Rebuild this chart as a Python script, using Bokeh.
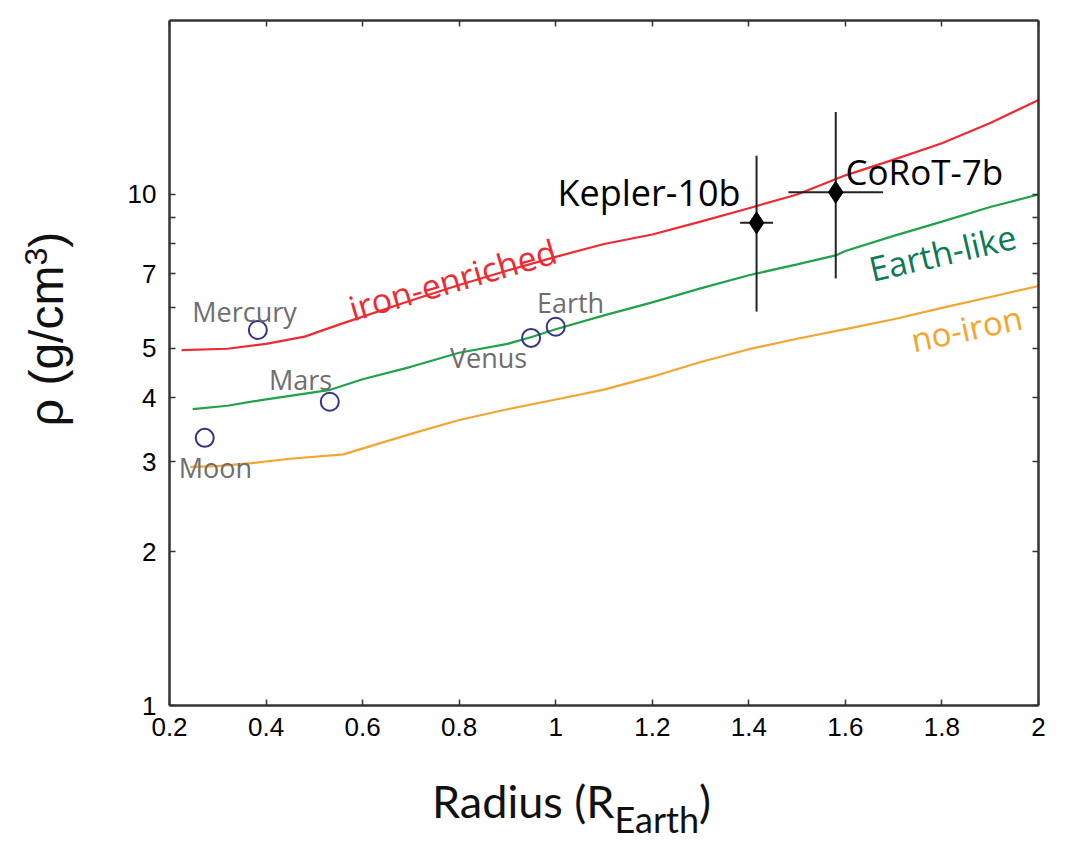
import math
from bokeh.plotting import figure
from bokeh.models import (LinearAxis, LogAxis, FixedTicker, CustomJSTickFormatter, Label, Range1d, Div)
from bokeh.layouts import column, row
from bokeh.embed import file_html
from bokeh.resources import INLINE

# ---- data ----
iron_r = [0.225, 0.32, 0.40, 0.48, 0.56, 0.70, 0.80, 0.90, 1.00, 1.10, 1.20, 1.30, 1.40, 1.50, 1.60, 1.70, 1.80, 1.90, 2.00]
iron_rho = [4.96, 4.99, 5.1, 5.27, 5.6, 6.2, 6.65, 7.1, 7.55, 8.0, 8.35, 8.85, 9.4, 10.0, 10.9, 11.7, 12.6, 13.8, 15.3]

earth_r = [0.248, 0.32, 0.39, 0.53, 0.60, 0.70, 0.80, 0.90, 0.95, 1.00, 1.10, 1.20, 1.30, 1.40, 1.50, 1.58, 1.60, 1.70, 1.80, 1.90, 2.00]
earth_rho = [3.8, 3.86, 3.96, 4.14, 4.35, 4.6, 4.9, 5.1, 5.26, 5.45, 5.8, 6.15, 6.55, 6.95, 7.3, 7.6, 7.75, 8.3, 8.85, 9.45, 10.0]

noiron_r = [0.243, 0.30, 0.37, 0.45, 0.56, 0.70, 0.80, 0.90, 1.00, 1.10, 1.20, 1.30, 1.40, 1.50, 1.60, 1.70, 1.80, 1.90, 2.00]
noiron_rho = [2.93, 2.94, 2.98, 3.04, 3.1, 3.4, 3.62, 3.8, 3.97, 4.15, 4.4, 4.7, 4.98, 5.22, 5.45, 5.7, 6.0, 6.3, 6.62]

planet_names = ["Moon", "Mercury", "Mars", "Venus", "Earth"]
planet_r = [0.273, 0.383, 0.532, 0.949, 1.0]
planet_rho = [3.34, 5.43, 3.93, 5.24, 5.51]

exo_names = ["Kepler-10b", "CoRoT-7b"]
exo_r = [1.416, 1.58]
exo_rho = [8.8, 10.1]
exo_r_lo = [1.382, 1.482]
exo_r_hi = [1.450, 1.678]
exo_rho_lo = [5.9, 6.85]
exo_rho_hi = [11.9, 14.5]

x_ticks = [0.2, 0.4, 0.6, 0.8, 1.0, 1.2, 1.4, 1.6, 1.8, 2.0]
y_ticks = [1, 2, 3, 4, 5, 6, 7, 8, 9, 10]
y_labeled = [1, 2, 3, 4, 5, 7, 10]

# ---- layout geometry (page pixels) ----
FL, FT, FR, FB = 169, 20, 1038, 705
W, H = 1074, 846
LW = 100          # width of the left title strip
PH = 762          # plot height (x title strip below)
PW = W - LW

p = figure(width=PW, height=PH, x_range=Range1d(0.2, 2.0), y_range=Range1d(1, 21.9),
           y_axis_type="log", output_backend="svg", toolbar_location=None,
           min_border_left=FL - LW, min_border_right=W - FR, min_border_top=FT,
           min_border_bottom=PH - FB)
p.grid.visible = False
p.outline_line_color = None
p.background_fill_color = "white"
p.border_fill_color = "white"

AX = "#333333"
xfmt = CustomJSTickFormatter(code="return String(Math.round(tick*10)/10);")
yfmt = CustomJSTickFormatter(code="var L=%s; return L.indexOf(tick)>=0 ? String(tick) : '';" % str(y_labeled))
nofmt = CustomJSTickFormatter(code="return '';")

def style(ax):
    ax.axis_line_color = AX
    ax.axis_line_width = 2.5
    ax.major_tick_line_color = AX
    ax.major_tick_line_width = 1.5
    ax.major_tick_in = 6
    ax.major_tick_out = 0
    ax.minor_tick_in = 0
    ax.minor_tick_out = 0
    ax.major_label_text_font = "Liberation Sans"
    ax.major_label_text_font_size = "26px"
    ax.major_label_text_color = "black"

xa = p.xaxis[0]
xa.ticker = FixedTicker(ticks=x_ticks)
xa.formatter = xfmt
style(xa)
xa.major_label_standoff = 12

ya = p.yaxis[0]
ya.ticker = FixedTicker(ticks=y_ticks)
ya.formatter = yfmt
style(ya)
ya.major_label_standoff = 13

top = LinearAxis(ticker=FixedTicker(ticks=x_ticks), formatter=nofmt)
style(top)
top.major_label_standoff = 0
p.add_layout(top, "above")
right = LogAxis(ticker=FixedTicker(ticks=y_ticks), formatter=nofmt)
style(right)
right.major_label_standoff = 0
p.add_layout(right, "right")

# ---- curves ----
p.line(iron_r, iron_rho, line_color="#EE2A33", line_width=2.2)
p.line(earth_r, earth_rho, line_color="#1FA24A", line_width=2.2)
p.line(noiron_r, noiron_rho, line_color="#F4A531", line_width=2.2)

# ---- solar system planets ----
p.scatter(planet_r, planet_rho, marker="circle", size=18, fill_color=None,
          line_color="#33338A", line_width=2)

# ---- exoplanets with error bars ----
p.segment(x0=exo_r, y0=exo_rho_lo, x1=exo_r, y1=exo_rho_hi, line_color="#222222", line_width=2)
p.segment(x0=exo_r_lo, y0=exo_rho, x1=exo_r_hi, y1=exo_rho, line_color="#222222", line_width=2)
p.scatter(exo_r, exo_rho, marker="diamond", size=22, fill_color="black", line_color="black")

# ---- text ----
def lab(text, px, py, size, color, font="Open Sans", angle=0.0, align="center", baseline="middle"):
    p.add_layout(Label(x=px - FL, y=FB - py, x_units="screen", y_units="screen", text=text,
                       text_font=font, text_font_size="%dpx" % size, text_color=color,
                       angle=math.radians(angle), text_align=align, text_baseline=baseline))

GRAY = "#6E6E6E"
lab("Mercury", 244, 311, 27, GRAY)
lab("Mars", 300, 379, 27, GRAY)
lab("Moon", 215, 467, 27, GRAY)
lab("Venus", 488, 357, 27, GRAY)
lab("Earth", 570, 302, 27, GRAY)

lab("iron-enriched", 452, 279, 34, "#EE2A33", angle=16)
lab("Earth-like", 942, 252, 34, "#0B7A55", angle=13)
lab("no-iron", 966, 328, 33, "#F4A531", angle=12)
lab("Kepler-10b", 557, 192, 36, "black", align="left")
lab("CoRoT-7b", 845, 171, 35, "black", align="left")

# y-axis title (rotated HTML text with superscript)
yt = Div(width=LW, height=PH, margin=(0, 0, 0, 0),
         text='<div style="position:absolute; left:45px; top:329px; white-space:nowrap; '
              'transform:translate(-50%,-50%) rotate(-90deg); font-family:\'Liberation Sans\'; '
              'font-size:48px; line-height:1; color:#111111;">'
              'ρ (g/cm<sup style="font-size:32px; vertical-align:16px; line-height:1;">3</sup>)</div>')

# x-axis title (HTML, with subscript)
xt = Div(width=W, height=H - PH, margin=(0, 0, 0, 0),
         text='<div style="position:absolute; left:432px; top:17px; white-space:nowrap; '
              'font-family:Lato; font-size:45px; line-height:1; color:#111111;">'
              'Radius (R<sub style="font-size:36px; vertical-align:-15px; line-height:1;">Earth</sub>)</div>')

layout = column(row(yt, p, spacing=0), xt, spacing=0)
open("out.html", "w").write(file_html(layout, INLINE))
